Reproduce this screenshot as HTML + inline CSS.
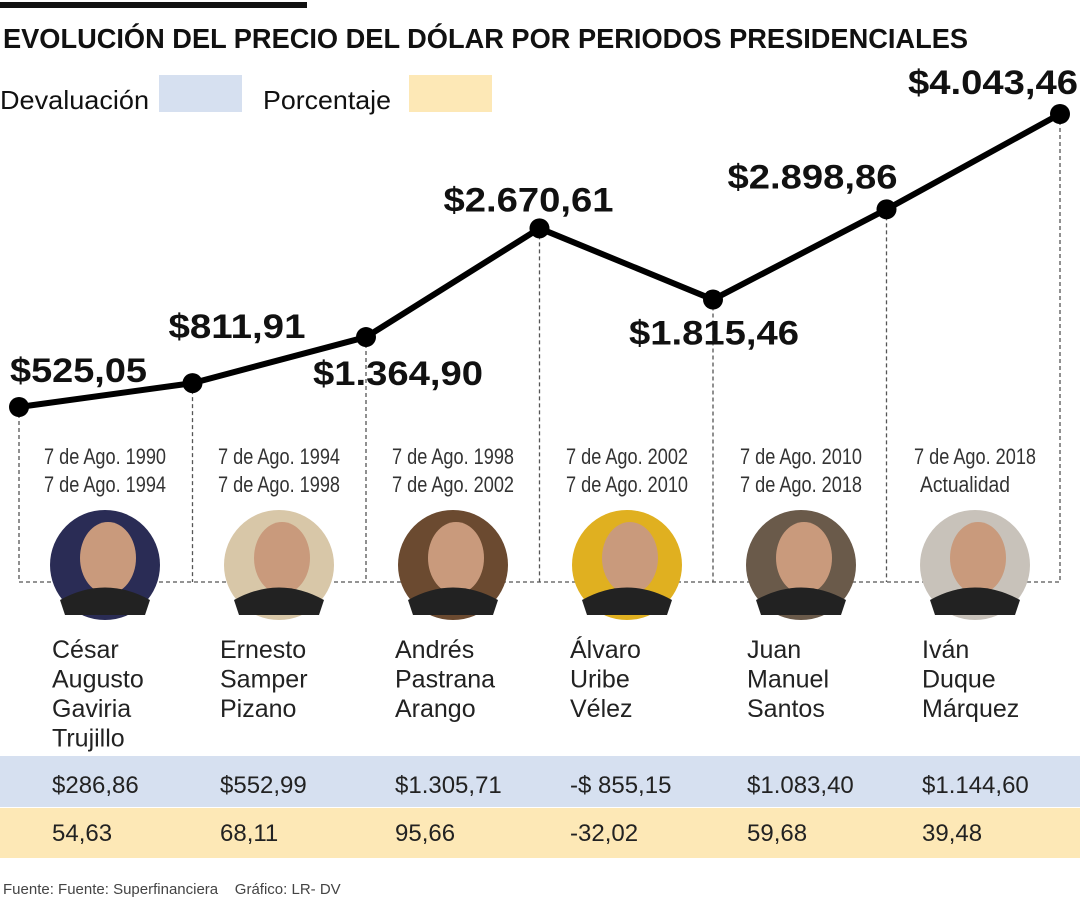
<!DOCTYPE html>
<html><head><meta charset="utf-8"><style>
body{margin:0;background:#fff;}
svg{display:block;font-family:"Liberation Sans",sans-serif;}
</style></head><body>
<svg id="chart" width="1080" height="900" viewBox="0 0 1080 900">
<rect x="0" y="0" width="1080" height="900" fill="#fff"/>
<rect x="0" y="2" width="307" height="6" fill="#111"/>
<text x="3" y="48" font-size="28" font-weight="bold" fill="#111" textLength="965" lengthAdjust="spacingAndGlyphs">EVOLUCIÓN DEL PRECIO DEL DÓLAR POR PERIODOS PRESIDENCIALES</text>
<text x="0" y="109" font-size="26" fill="#111" textLength="149" lengthAdjust="spacingAndGlyphs">Devaluación</text>
<rect x="159" y="75" width="83" height="37" fill="#d6e0f0"/>
<text x="263" y="109" font-size="26" fill="#111" textLength="128" lengthAdjust="spacingAndGlyphs">Porcentaje</text>
<rect x="409" y="75" width="83" height="37" fill="#fde8b6"/>
<rect x="0" y="756" width="1080" height="51" fill="#d6e0f0"/>
<rect x="0" y="808" width="1080" height="50" fill="#fde8b6"/>
<g id="g"></g>
<text x="3" y="894" font-size="15" fill="#444" xml:space="preserve" style="white-space:pre">Fuente: Fuente: Superfinanciera    Gráfico: LR- DV</text>
</svg>
<script>
const priceLabels=["$525,05","$811,91","$1.364,90","$2.670,61","$1.815,46","$2.898,86","$4.043,46"];
const prices=[525.05,811.91,1364.90,2670.61,1815.46,2898.86,4043.46];
const datesA=["7 de Ago. 1990","7 de Ago. 1994","7 de Ago. 1998","7 de Ago. 2002","7 de Ago. 2010","7 de Ago. 2018"];
const datesB=["7 de Ago. 1994","7 de Ago. 1998","7 de Ago. 2002","7 de Ago. 2010","7 de Ago. 2018","Actualidad"];
const names=[["César","Augusto","Gaviria","Trujillo"],["Ernesto","Samper","Pizano"],["Andrés","Pastrana","Arango"],["Álvaro","Uribe","Vélez"],["Juan","Manuel","Santos"],["Iván","Duque","Márquez"]];
const devaluacion=["$286,86","$552,99","$1.305,71","-$ 855,15","$1.083,40","$1.144,60"];
const porcentaje=["54,63","68,11","95,66","-32,02","59,68","39,48"];

const NS="http://www.w3.org/2000/svg";
const g=document.getElementById('g');
function x(i){return 19+i*173.5;}
function y(v){return 407-(v-525.05)*(293/(4043.46-525.05));}
function mk(t,a,p){const e=document.createElementNS(NS,t);for(const k in a)e.setAttribute(k,a[k]);(p||g).appendChild(e);return e;}
const hl=mk('line',{x1:x(0),y1:582,x2:x(6),y2:582,stroke:'#555','stroke-width':1.3,'stroke-dasharray':'4 3'});


prices.forEach((v,i)=>{const l=mk('line',{x1:x(i),y1:y(v),x2:x(i),y2:582,stroke:'#555','stroke-width':1.3,'stroke-dasharray':'4 3'});

});
const skin=['#2a2c55','#d8c7a8','#6b4a30','#e0b020','#6a5a4a','#c8c2ba'];
datesA.forEach((d,i)=>{const cx=105+i*174;
const c=mk('circle',{cx:cx,cy:565,r:55,fill:skin[i]});


const f=mk('ellipse',{cx:cx+3,cy:558,rx:28,ry:36,fill:'#c99a7c'});


const b=mk('path',{d:`M${cx-45} 600 Q${cx} 575 ${cx+45} 600 L${cx+40} 615 L${cx-40} 615 Z`,fill:'#222'});


});
const pl=mk('polyline',{points:prices.map((v,i)=>x(i)+','+y(v)).join(' '),fill:'none',stroke:'#000','stroke-width':6,'stroke-linejoin':'round'});


prices.forEach((v,i)=>{const c=mk('circle',{cx:x(i),cy:y(v),r:10,fill:'#000'});

});
const off=[[-9,-25],[-24,-45],[-53,48],[-96,-17],[-84,45],[-159,-21],[-152,-20]];
priceLabels.forEach((s,i)=>{const t=mk('text',{x:x(i)+off[i][0],y:y(prices[i])+off[i][1],'font-size':34,'font-weight':'bold',fill:'#111',textLength:(s.length>7?170:137),lengthAdjust:'spacingAndGlyphs'});
t.textContent=s;

});
datesA.forEach((d,i)=>{const cx=105+i*174;
const t1=mk('text',{x:cx,y:464,'font-size':22,fill:'#333','text-anchor':'middle',textLength:122,lengthAdjust:'spacingAndGlyphs'});t1.textContent=d;


const t2=mk('text',{x:i==5?920:cx,y:492,'font-size':22,fill:'#333','text-anchor':i==5?'start':'middle',textLength:i==5?90:122,lengthAdjust:'spacingAndGlyphs'});t2.textContent=datesB[i];


const nx=[52,220,395,570,747,922][i];
names[i].forEach((n,j)=>{const t=mk('text',{x:nx,y:658+j*29.5,'font-size':25,fill:'#222'});t.textContent=n;

});
const v1=mk('text',{x:nx,y:793,'font-size':24,fill:'#222'});v1.textContent=devaluacion[i];


const v2=mk('text',{x:nx,y:841,'font-size':24,fill:'#222'});v2.textContent=porcentaje[i];


});
</script>
</body></html>
